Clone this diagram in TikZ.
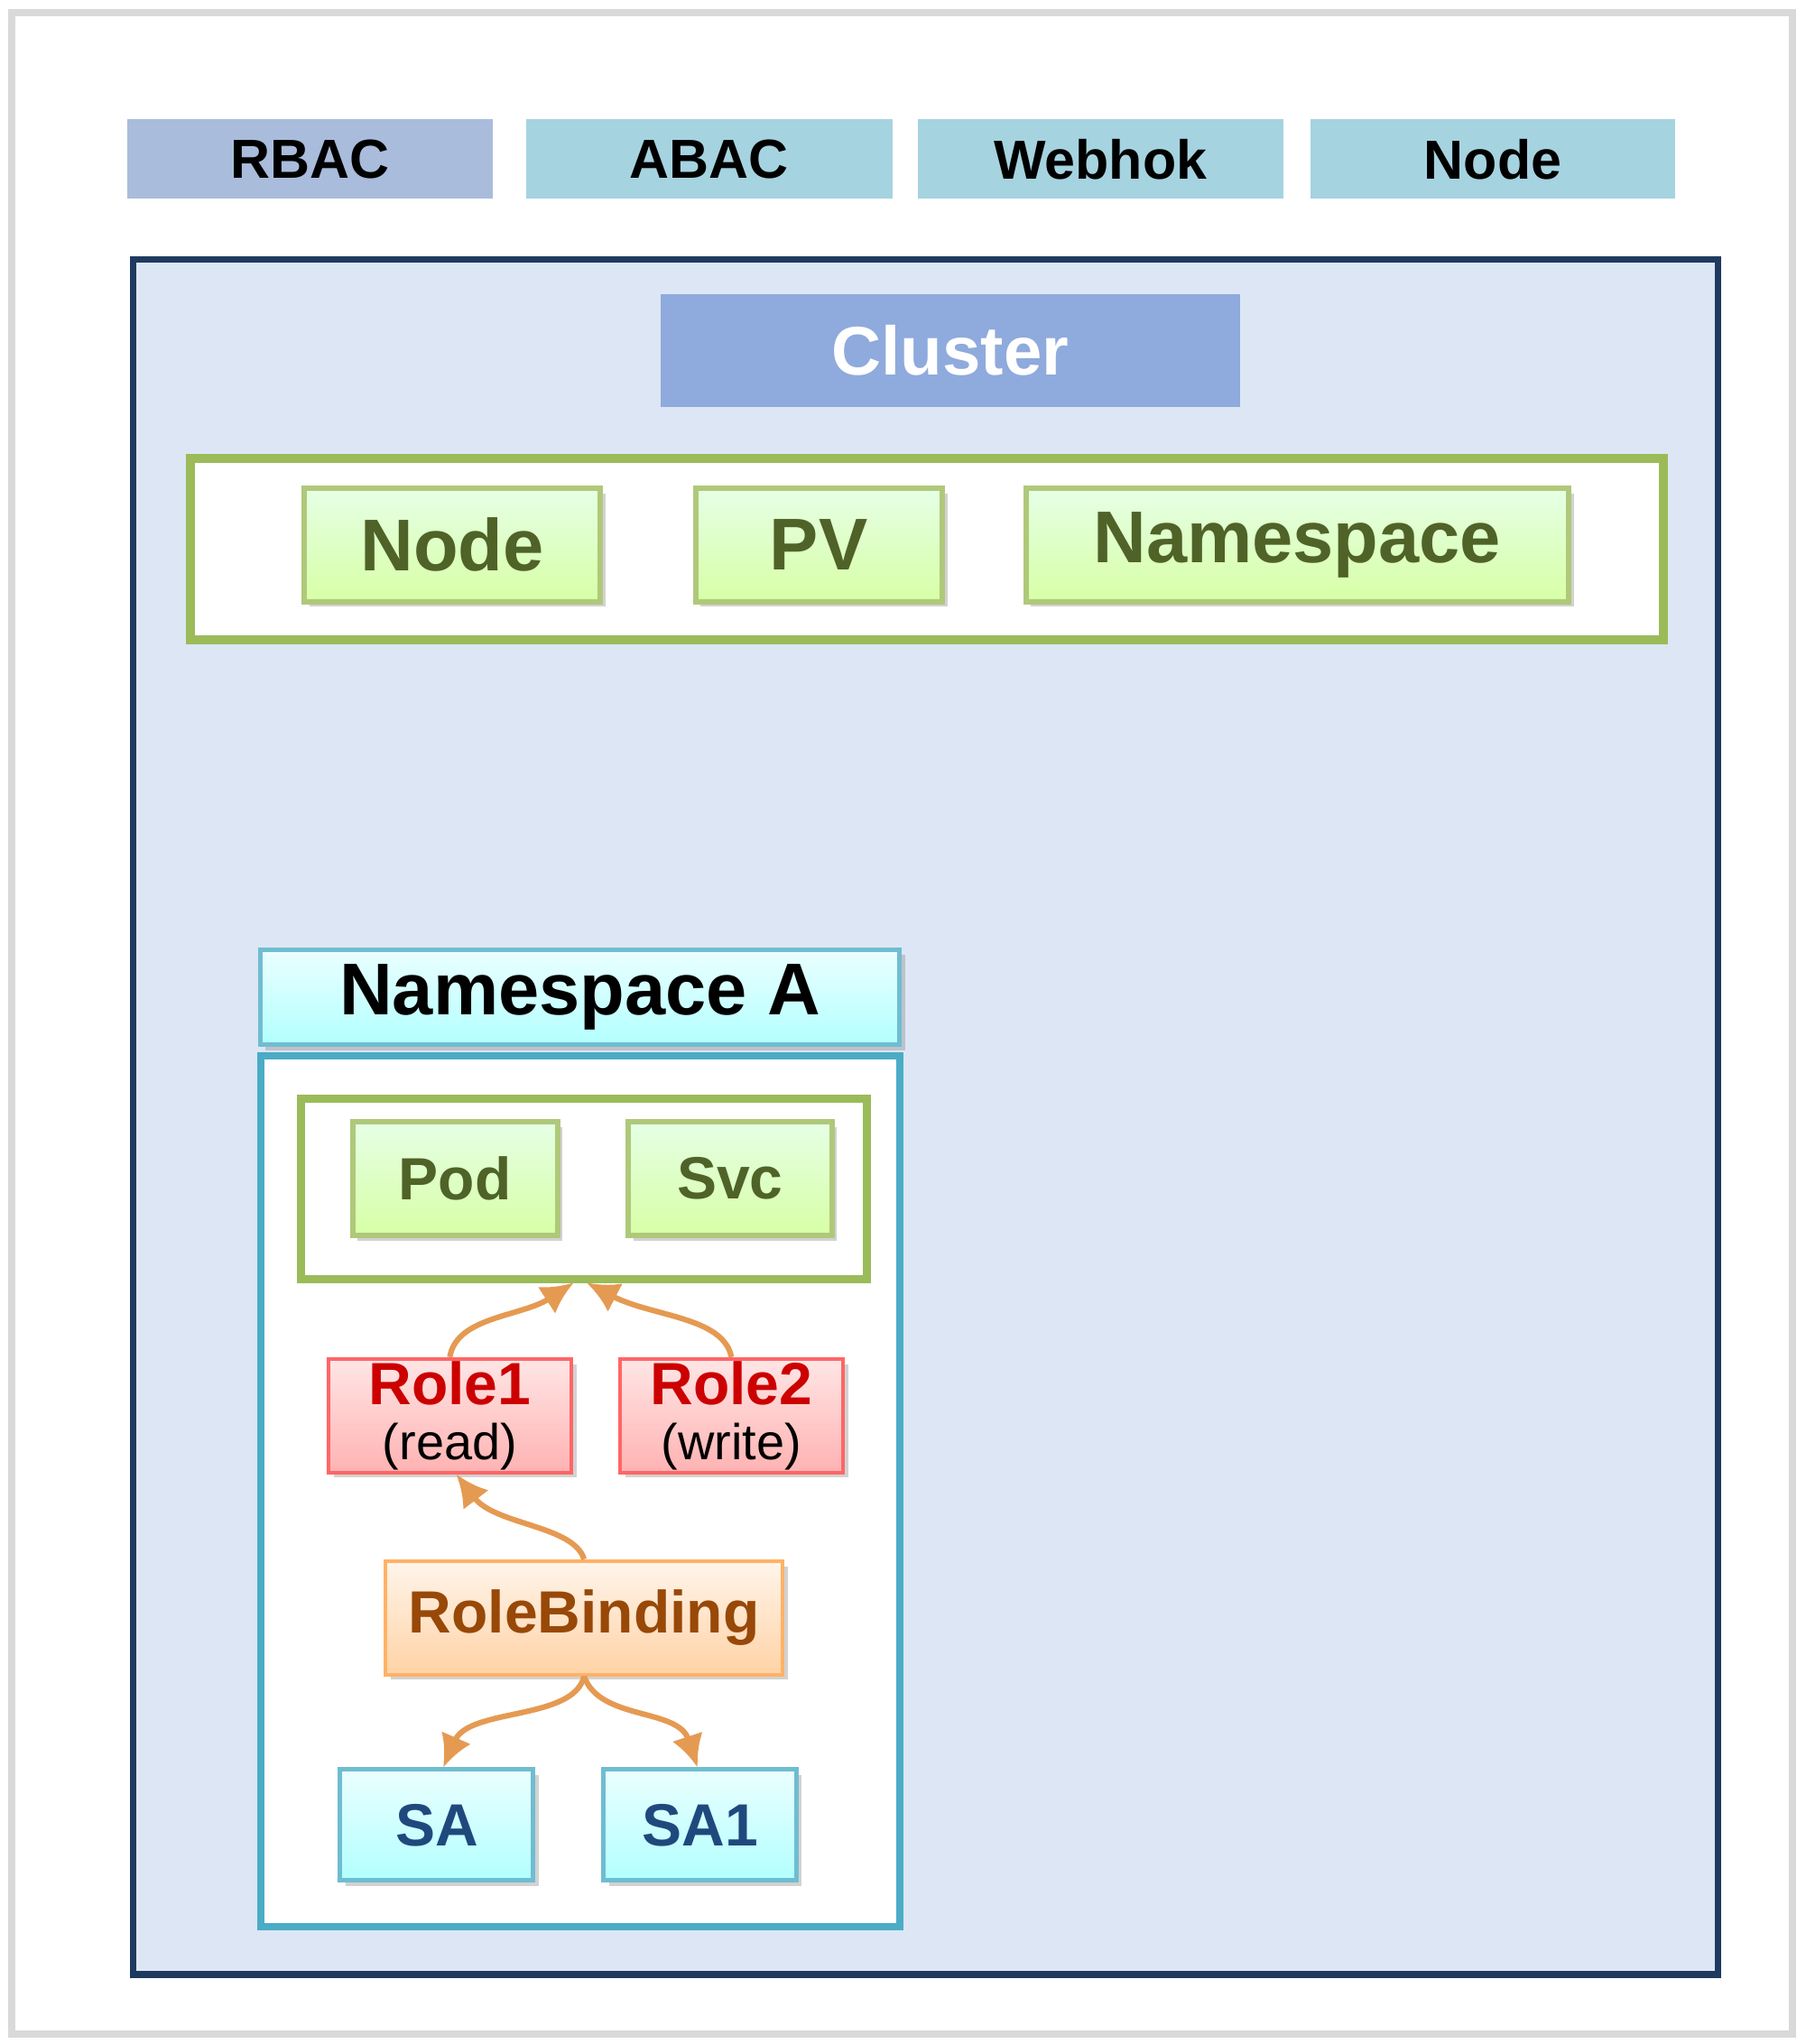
\documentclass[tikz,border=0pt]{standalone}
\usepackage{fontspec}
\setmainfont{Liberation Sans}
\usetikzlibrary{shadows,arrows.meta}
\definecolor{gline}{HTML}{9BBB59}
\definecolor{gtext}{HTML}{4F6228}
\definecolor{cyl}{HTML}{4BACC6}
\definecolor{orl}{HTML}{E59A52}
\begin{document}
\begin{tikzpicture}[x=0.01cm,y=-0.01cm,
 top/.style={minimum height=0.61cm,font=\bfseries\fontsize{12}{14}\selectfont,inner sep=0},
 gbox/.style={draw=gline!80!white,line width=1.2pt,top color=white!60!green!25,bottom color=green!45!yellow!35,text=gtext,font=\bfseries,inner sep=0,drop shadow={opacity=0.35,shadow xshift=0.04cm,shadow yshift=-0.04cm}},
 rbox/.style={draw=red!60,line width=0.8pt,top color=red!10,bottom color=red!30,inner sep=0,align=center,font=\fontsize{11}{13}\selectfont,drop shadow={opacity=0.35,shadow xshift=0.04cm,shadow yshift=-0.04cm}},
 cbox/.style={draw=cyl!80,line width=1pt,top color=cyan!8,bottom color=cyan!30,inner sep=0,drop shadow={opacity=0.35,shadow xshift=0.04cm,shadow yshift=-0.04cm}},
 arr/.style={draw=orl,line width=1.2pt,-{Latex[length=7pt,width=7pt]}}]
\useasboundingbox (0,0) rectangle (1385,1568);
\node[draw=gray!30,line width=1.5pt,minimum width=13.65cm,minimum height=15.5cm,inner sep=0] (frame) at (692,785) {};
\node[top,fill={rgb,255:red,169;green,188;blue,219},minimum width=2.8cm] (rbac) at (238,122) {RBAC};
\node[top,fill={rgb,255:red,166;green,211;blue,224},minimum width=2.81cm] (abac) at (544,122) {ABAC};
\node[top,fill={rgb,255:red,166;green,211;blue,224},minimum width=2.8cm] (webhok) at (844,122) {Webhok};
\node[top,fill={rgb,255:red,166;green,211;blue,224},minimum width=2.8cm] (node0) at (1145,122) {Node};
\node[draw={rgb,255:red,31;green,58;blue,95},line width=1.5pt,fill={rgb,255:red,221;green,230;blue,244},minimum width=12.15cm,minimum height=13.15cm,inner sep=0] (cluster) at (710,857) {};
\node[fill={rgb,255:red,143;green,170;blue,220},text=white,font=\bfseries\fontsize{15}{18}\selectfont,minimum width=4.44cm,minimum height=0.86cm,inner sep=0] (clabel) at (729,269) {Cluster};
\node[draw=gline,line width=2pt,fill=white,minimum width=11.29cm,minimum height=1.39cm,inner sep=0] (gframe) at (711,421) {};
\node[gbox,minimum width=2.27cm,minimum height=0.87cm,font=\bfseries\fontsize{16}{19}\selectfont] (node1) at (347,418) {Node};
\node[gbox,minimum width=1.89cm,minimum height=0.87cm,font=\bfseries\fontsize{16}{19}\selectfont] (pv) at (628,418) {PV};
\node[gbox,minimum width=4.16cm,minimum height=0.87cm,font=\bfseries\fontsize{16}{19}\selectfont] (ns) at (995,418) {Namespace\vphantom{N}};
\node[draw=cyl,line width=1.5pt,fill=white,minimum width=4.9cm,minimum height=6.68cm,inner sep=0] (nsbody) at (445,1144) {};
\node[cbox,drop shadow={opacity=0},minimum width=4.9cm,minimum height=0.73cm,font=\bfseries\fontsize{16}{19}\selectfont] (nsa) at (445,765) {Namespace A};
\node[draw=gline,line width=1.8pt,minimum width=4.34cm,minimum height=1.38cm,inner sep=0] (iframe) at (448,912) {};
\node[gbox,minimum width=1.57cm,minimum height=0.87cm,font=\bfseries\fontsize{13}{16}\selectfont] (pod) at (349,904) {Pod};
\node[gbox,minimum width=1.56cm,minimum height=0.87cm,font=\bfseries\fontsize{13}{16}\selectfont] (svc) at (560,904) {Svc};
\node[rbox,minimum width=1.86cm,minimum height=0.87cm] (role1) at (345,1086) {\textcolor{red!80!black}{\bfseries\fontsize{13}{15}\selectfont Role1}\\[-1pt](read)};
\node[rbox,minimum width=1.71cm,minimum height=0.87cm] (role2) at (561,1086) {\textcolor{red!80!black}{\bfseries\fontsize{13}{15}\selectfont Role2}\\[-1pt](write)};
\node[draw=orange!60,line width=0.8pt,top color=orange!8,bottom color=orange!35,text={rgb,255:red,152;green,72;blue,7},font=\bfseries\fontsize{13}{16}\selectfont,minimum width=3.04cm,minimum height=0.87cm,inner sep=0,drop shadow={opacity=0.35,shadow xshift=0.04cm,shadow yshift=-0.04cm}] (rb) at (448,1241) {RoleBinding};
\node[cbox,text={rgb,255:red,31;green,73;blue,125},font=\bfseries\fontsize{13}{16}\selectfont,minimum width=1.48cm,minimum height=0.85cm] (sa) at (335,1400) {SA};
\node[cbox,text={rgb,255:red,31;green,73;blue,125},font=\bfseries\fontsize{13}{16}\selectfont,minimum width=1.48cm,minimum height=0.85cm] (sa1) at (537,1400) {SA1};
\coordinate (t1) at (440,984);
\coordinate (t2) at (450,984);
\draw[arr] (role1.north) .. controls (350,1010) and (400,1010) .. (t1);
\draw[arr] (role2.north) .. controls (555,1010) and (500,1010) .. (t2);
\draw[arr] (rb.north) .. controls (440,1170) and (380,1170) .. ([xshift=0.05cm]role1.south);
\draw[arr] (rb.south) .. controls (440,1320) and (360,1310) .. ([xshift=0.05cm]sa.north);
\draw[arr] (rb.south) .. controls (460,1320) and (520,1310) .. ([xshift=-0.02cm]sa1.north);
\end{tikzpicture}
\end{document}
